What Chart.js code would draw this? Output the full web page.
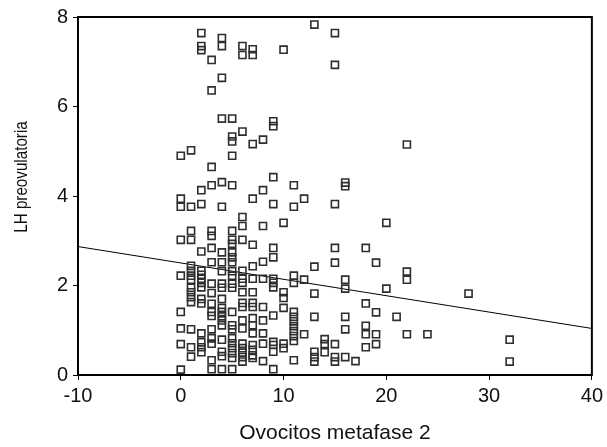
<!DOCTYPE html>
<html>
<head>
<meta charset="utf-8">
<script src="https://cdn.jsdelivr.net/npm/chart.js@4.4.0/dist/chart.umd.min.js"></script>
<style>
  html, body { margin: 0; padding: 0; background: #fff; }
  #wrap { width: 607px; height: 447px; }
</style>
</head>
<body>
<div id="wrap"><canvas id="dispersion"></canvas></div>
<script>
// número de ovocitos metafase 2 (eje x)
var ovocitos = [0, 1, 2, 3, 4, 5, 6, 7, 8, 9, 10, 11, 12, 13, 14, 15, 16, 17, 18, 19, 20, 21, 22, 24, 28, 32];

// LH preovulatoria para cada número de ovocitos (mismo orden que ovocitos)
var lhPorOvocito = [
  [4.9, 3.94, 3.76, 3.02, 2.22, 1.41, 1.04, 0.69, 0.12],
  [5.02, 3.76, 3.22, 3.02, 2.44, 2.33, 2.22, 2.13, 1.95, 1.85, 1.74, 1.63, 1.02, 0.62, 0.41],
  [7.64, 7.35, 7.26, 4.13, 3.82, 2.76, 2.33, 2.24, 2.15, 2.06, 1.96, 1.7, 1.6, 0.93, 0.73, 0.62, 0.51],
  [7.04, 6.36, 4.65, 4.24, 3.22, 3.11, 2.84, 2.52, 2.04, 1.83, 1.59, 1.41, 1.32, 1.02, 0.82, 0.7, 0.33, 0.13],
  [7.53, 7.35, 6.64, 5.73, 4.31, 3.76, 2.74, 2.52, 2.32, 2.04, 1.95, 1.7, 1.5, 1.41, 1.31, 1.22, 1.11, 0.79, 0.52, 0.42, 0.13],
  [5.73, 5.33, 5.22, 4.9, 4.24, 3.22, 3.02, 2.93, 2.74, 2.63, 2.52, 2.32, 2.22, 2.04, 1.95, 1.41, 1.11, 1.02, 0.82, 0.71, 0.6, 0.49, 0.38, 0.13],
  [7.35, 7.15, 5.44, 3.53, 3.33, 3.02, 2.33, 2.15, 2.06, 1.85, 1.61, 1.52, 1.22, 1.04, 0.7, 0.6, 0.5, 0.4, 0.3],
  [7.28, 7.15, 5.16, 3.94, 2.91, 2.43, 2.15, 1.85, 1.61, 1.52, 1.27, 1.11, 0.93, 0.67, 0.56, 0.44, 0.38],
  [5.26, 4.13, 3.33, 2.53, 2.15, 1.52, 1.22, 0.93, 0.7, 0.31],
  [5.67, 5.56, 4.42, 3.82, 2.84, 2.63, 2.15, 2.06, 1.96, 1.33, 0.74, 0.67, 0.52, 0.13],
  [7.27, 3.4, 1.85, 1.72, 1.5, 0.7, 0.6],
  [4.24, 3.76, 2.22, 2.06, 1.41, 1.3, 1.2, 1.09, 0.98, 0.87, 0.76, 0.33],
  [3.94, 2.13, 0.91],
  [7.83, 2.42, 1.82, 1.3, 0.52, 0.4, 0.3],
  [0.8, 0.69, 0.51],
  [7.64, 6.93, 3.82, 2.84, 2.51, 0.69, 0.4, 0.3],
  [4.3, 4.22, 2.13, 1.93, 1.3, 1.02, 0.4],
  [0.31],
  [2.84, 1.6, 1.1, 0.91, 0.62],
  [2.51, 1.4, 0.91, 0.69],
  [3.4, 1.93],
  [1.3],
  [5.15, 2.31, 2.13, 0.91],
  [0.91],
  [1.82],
  [0.79, 0.3]
];

// recta de regresión (extremos)
var rectaX = [-10, 40];
var rectaY = [2.87, 1.04];

// marcas de los ejes
var ticksX = [-10, 0, 10, 20, 30, 40];
var ticksY = [0, 2, 4, 6, 8];

var tituloX = "Ovocitos metafase 2";
var tituloY = "LH preovulatoria";

// puntos para el gráfico
var puntos = [];
ovocitos.forEach((n, i) => {
  lhPorOvocito[i].forEach((lh) => {
    puntos.push({ x: n, y: lh });
  });
});

var recta = rectaX.map((x, i) => ({ x: x, y: rectaY[i] }));

var fuente = "'Liberation Sans', Arial, sans-serif";

// marco del área y título vertical
var marcoPlugin = {
  id: "marco",
  afterDraw(chart) {
    var ctx = chart.ctx;
    var a = chart.chartArea;
    ctx.save();
    ctx.strokeStyle = "#000";
    ctx.lineWidth = 2;
    ctx.strokeRect(a.left, a.top, a.right - a.left, a.bottom - a.top);

    ctx.translate(22, 177);
    ctx.rotate(-Math.PI / 2);
    ctx.scale(0.8, 1);
    ctx.fillStyle = "#111";
    ctx.font = "19px " + fuente;
    ctx.textAlign = "center";
    ctx.textBaseline = "middle";
    ctx.fillText(tituloY, 0, 0);
    ctx.restore();
  },
};

var ctx = document.getElementById("dispersion").getContext("2d");
var grafico = new Chart(ctx, {
  type: "scatter",
  data: {
    datasets: [
      {
        data: puntos,
        pointStyle: "rect",
        pointRadius: 5,
        pointHoverRadius: 5,
        borderWidth: 1.6,
        borderColor: "#2e2e2e",
        backgroundColor: "rgba(0,0,0,0)",
      },
      {
        type: "line",
        data: recta,
        borderColor: "#000",
        borderWidth: 1,
        pointRadius: 0,
        fill: false,
      },
    ],
  },
  options: {
    responsive: true,
    maintainAspectRatio: false,
    animation: false,
    layout: { padding: { top: 15, right: 15, left: 0, bottom: 0 } },
    plugins: {
      legend: { display: false },
      tooltip: { enabled: false },
    },
    scales: {
      x: {
        type: "linear",
        min: -10,
        max: 40,
        afterBuildTicks: (axis) => {
          axis.ticks = ticksX.map((v) => ({ value: v }));
        },
        afterFit: (axis) => {
          axis.height = 72;
        },
        grid: { drawOnChartArea: false, drawTicks: true, tickLength: 5, color: "#000" },
        border: { display: false },
        ticks: {
          color: "#111",
          font: { family: fuente, size: 20 },
          padding: 4,
          maxRotation: 0,
        },
        title: {
          display: true,
          text: tituloX,
          color: "#111",
          font: { family: fuente, size: 21 },
          padding: { top: 0, bottom: 1 },
        },
      },
      y: {
        type: "linear",
        min: 0,
        max: 8,
        afterBuildTicks: (axis) => {
          axis.ticks = ticksY.map((v) => ({ value: v }));
        },
        afterFit: (axis) => {
          axis.width = 78;
        },
        grid: { drawOnChartArea: false, drawTicks: true, tickLength: 5, color: "#000" },
        border: { display: false },
        ticks: {
          color: "#111",
          font: { family: fuente, size: 20 },
          padding: 5,
        },
      },
    },
  },
  plugins: [marcoPlugin],
});
</script>
</body>
</html>
